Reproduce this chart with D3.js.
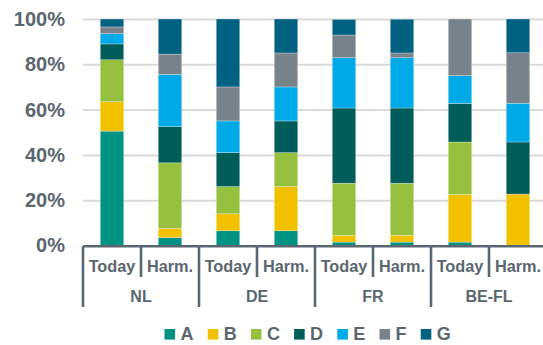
<!DOCTYPE html>
<html>
<head>
<meta charset="utf-8">
<script src="https://cdn.jsdelivr.net/npm/d3@7"></script>
<style>
  html, body { margin: 0; padding: 0; background: #fff; }
  svg { display: block; font-family: "Liberation Sans", Arial, sans-serif; }
</style>
</head>
<body>
<svg id="chart" width="543" height="345"></svg>
<script>
// Share of each class (%) per country, today vs. harmonised scenario
const groups = ["NL", "DE", "FR", "BE-FL"];
const scenarios = ["Today", "Harm."];
const series = ["A", "B", "C", "D", "E", "F", "G"];
const seriesColors = ["#009384", "#f2c100", "#96c13e", "#005d5a", "#00a9e7", "#78828a", "#006180"];

const valuesA = [50.5, 3.5, 6.5, 6.5, 1.5, 1.5, 1.5, 0];
const valuesB = [13, 4, 7.5, 19.5, 3, 3, 21, 22.7];
const valuesC = [18.5, 29, 12, 15, 23, 23, 23.2, 0];
const valuesD = [7, 16, 15, 14, 33.2, 33.2, 17, 23];
const valuesE = [4.5, 23, 14, 15, 22.2, 22.2, 12.3, 17.1];
const valuesF = [3, 9, 15, 15, 10, 2.1, 25, 22.3];
const valuesG = [3.5, 15.5, 30, 15, 6.9, 14.9, 0, 14.9];

const yTicks = [0, 20, 40, 60, 80, 100];
const yTickLabels = ["0%", "20%", "40%", "60%", "80%", "100%"];

const seriesValues = [valuesA, valuesB, valuesC, valuesD, valuesE, valuesF, valuesG];

// one row per bar: group + scenario
const rows = [];
groups.forEach((g, gi) => scenarios.forEach((s, si) => {
  const i = gi * scenarios.length + si;
  const row = { key: g + "|" + s, group: g, scenario: s };
  series.forEach((name, k) => { row[name] = seriesValues[k][i]; });
  rows.push(row);
}));

const svg = d3.select("#chart");
const textColor = "#5a6670";
const labelFont = "'Liberation Sans', Arial, sans-serif";
const x0 = 83, x1 = 547, yTop = 19, yBottom = 245.5;

const x = d3.scaleBand()
  .domain(rows.map(d => d.key))
  .range([x0, x1])
  .paddingInner(0.595)
  .paddingOuter(0.2975);

const y = d3.scaleLinear().domain([0, 100]).range([yBottom, yTop]);
const color = d3.scaleOrdinal().domain(series).range(seriesColors);

// gridlines + y labels
const yAxis = d3.axisLeft(y)
  .tickValues(yTicks)
  .tickFormat((d, i) => yTickLabels[i])
  .tickSize(-(543 - x0))
  .tickPadding(18);

const gy = svg.append("g").attr("transform", `translate(${x0},0)`).call(yAxis);
gy.select(".domain").remove();
gy.selectAll(".tick line").attr("stroke", "#dadada").attr("stroke-width", 2);
gy.selectAll(".tick text")
  .attr("fill", textColor)
  .attr("font-size", 20)
  .attr("font-weight", "bold")
  .attr("font-family", labelFont);

// stacked bars
const stacked = d3.stack().keys(series)(rows);
svg.append("g").selectAll("g")
  .data(stacked)
  .join("g")
  .attr("fill", d => color(d.key))
  .selectAll("rect")
  .data(d => d)
  .join("rect")
  .attr("x", d => x(d.data.key))
  .attr("width", x.bandwidth())
  .attr("y", d => y(d[1]))
  .attr("height", d => Math.max(0, y(d[0]) - y(d[1])))
  .attr("stroke", "#ffffff")
  .attr("stroke-opacity", 0.45)
  .attr("stroke-width", 0.6);

// two-level category axis
const axisY = 246.3;
const step = x.step();
const halfGap = step * x.paddingInner() / 2;
const axisG = svg.append("g").attr("stroke", textColor).attr("stroke-width", 2.6);
axisG.append("line")
  .attr("x1", x0).attr("x2", 543 + 4)
  .attr("y1", axisY).attr("y2", axisY);

rows.forEach((d, i) => {
  const bx = x(d.key) - halfGap;
  const outer = i % scenarios.length === 0;
  axisG.append("line")
    .attr("x1", bx).attr("x2", bx)
    .attr("y1", axisY).attr("y2", outer ? 307 : 277);
});

svg.append("g").selectAll("text")
  .data(rows)
  .join("text")
  .attr("x", d => x(d.key) + x.bandwidth() / 2)
  .attr("y", 271.5)
  .attr("text-anchor", "middle")
  .attr("fill", textColor)
  .attr("font-size", 16.3)
  .attr("font-weight", "bold")
  .attr("font-family", labelFont)
  .text(d => d.scenario);

svg.append("g").selectAll("text")
  .data(groups)
  .join("text")
  .attr("x", g => x(g + "|" + scenarios[0]) - halfGap + step)
  .attr("y", 302)
  .attr("text-anchor", "middle")
  .attr("fill", textColor)
  .attr("font-size", 16)
  .attr("font-weight", "bold")
  .attr("font-family", labelFont)
  .text(g => g);

// legend
const legend = svg.append("g").attr("transform", "translate(164.5,0)");
let lx = 0;
series.forEach(name => {
  const item = legend.append("g").attr("transform", `translate(${lx},0)`);
  item.append("rect")
    .attr("x", 0).attr("y", 329)
    .attr("width", 10.6).attr("height", 10.6)
    .attr("fill", color(name));
  const t = item.append("text")
    .attr("x", 16).attr("y", 340)
    .attr("fill", textColor)
    .attr("font-size", 18)
    .attr("font-weight", "bold")
    .attr("font-family", labelFont)
    .text(name);
  lx += 16 + t.node().getComputedTextLength() + 14.2;
});
</script>
</body>
</html>
